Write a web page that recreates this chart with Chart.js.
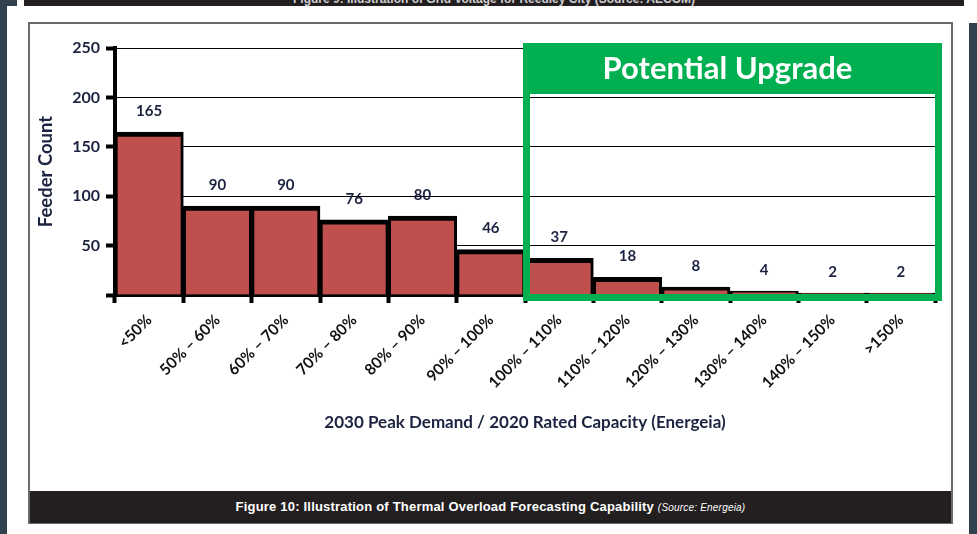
<!DOCTYPE html>
<html>
<head>
<meta charset="utf-8">
<script src="https://cdn.jsdelivr.net/npm/chart.js@4/dist/chart.umd.min.js"></script>
<style>
  html, body { margin: 0; padding: 0; background: #ffffff; }
  #page { position: relative; width: 977px; height: 534px; overflow: hidden; background: #ffffff; }
  .slate { position: absolute; background: #31414e; }
  #topbar { position: absolute; left: 24px; top: 0; width: 940px; height: 6px; background: #231f20; overflow: hidden; }
  #topbar span { position: absolute; left: 0; width: 100%; top: -8px; text-align: center; color: #d0d0d0;
    font: bold 12px "Liberation Sans Narrow", "Liberation Sans", Arial, sans-serif; line-height: 14px; white-space: nowrap; }
  #box { position: absolute; left: 28px; top: 22px; width: 921px; height: 498px; border: 2px solid #6b6b6b; }
  #caption { position: absolute; left: 30px; top: 491px; width: 921px; height: 32px; background: #231f20;
    color: #ffffff; text-align: center; white-space: nowrap;
    font: bold 13px "Liberation Sans Narrow", "Liberation Sans", Arial, sans-serif; line-height: 32px; letter-spacing: 0.2px; }
  #caption i { font-weight: normal; font-size: 10px; }
  #c { position: absolute; left: 0; top: 0; }
</style>
</head>
<body>
<div id="page">
  <div class="slate" style="left:0;top:0;width:7px;height:534px"></div>
  <div class="slate" style="left:0;top:0;width:17px;height:6px"></div>
  <div class="slate" style="left:969px;top:23px;width:8px;height:511px"></div>
  <div id="topbar"><span>Figure 9: Illustration of Grid Voltage for Reedley City (Source: AECOM)</span></div>
  <div id="box"></div>
  <div id="caption">Figure 10: Illustration of Thermal Overload Forecasting Capability <i>(Source: Energeia)</i></div>
  <canvas id="c" width="977" height="534"></canvas>
</div>
<script>
// Loading ratio bins (2030 peak demand over 2020 rated capacity)
const categories = ['<50%', '50% – 60%', '60% – 70%', '70% – 80%', '80% – 90%', '90% – 100%',
  '100% – 110%', '110% – 120%', '120% – 130%', '130% – 140%', '140% – 150%', '>150%'];
// Number of feeders in each bin
const feederCounts = [165, 90, 90, 76, 80, 46, 37, 18, 8, 4, 2, 2];
// Vertical axis
const yTicks = [0, 50, 100, 150, 200, 250];
// First bin covered by the upgrade panel
const upgradeStartIndex = 6;
const upgradeLabel = 'Potential Upgrade';

const NAVY = '#1c2340';
const GREEN = '#00b050';

// Writes each feeder count above its bar
const valueLabels = {
  id: 'valueLabels',
  afterDatasetsDraw(chart) {
    const ctx = chart.ctx;
    const meta = chart.getDatasetMeta(0);
    ctx.save();
    ctx.font = 'bold 15px Lato, sans-serif';
    ctx.fillStyle = NAVY;
    ctx.textAlign = 'center';
    ctx.textBaseline = 'middle';
    meta.data.forEach((bar, i) => {
      ctx.fillText(String(chart.data.datasets[0].data[i]), bar.x, bar.y - 21);
    });
    ctx.restore();
  }
};

// Green framed panel over the upper loading bins
const upgradePanel = {
  id: 'upgradePanel',
  afterDraw(chart) {
    const ctx = chart.ctx;
    const x = chart.scales.x;
    const area = chart.chartArea;
    const boundary = (x.getPixelForValue(upgradeStartIndex - 1) + x.getPixelForValue(upgradeStartIndex)) / 2;
    const lw = 7;
    const left = boundary + 1.5;
    const right = area.right + 3.5;
    const top = area.top - 1.5;
    const bottom = area.bottom + 2.5;
    ctx.save();
    ctx.fillStyle = GREEN;
    ctx.fillRect(left - lw / 2, top - lw / 2, right - left + lw, 51);
    ctx.strokeStyle = GREEN;
    ctx.lineWidth = lw;
    ctx.strokeRect(left, top, right - left, bottom - top);
    ctx.fillStyle = '#ffffff';
    ctx.font = 'bold 31px Lato, sans-serif';
    ctx.textAlign = 'center';
    ctx.textBaseline = 'middle';
    ctx.fillText(upgradeLabel, (left + right) / 2 - 5, top + 22);
    ctx.restore();
  }
};

new Chart(document.getElementById('c'), {
  type: 'bar',
  data: {
    labels: categories,
    datasets: [{
      data: feederCounts,
      backgroundColor: '#c0504d',
      borderColor: '#000000',
      borderWidth: { top: 5, left: 3, right: 3, bottom: 0 },
      borderSkipped: false,
      categoryPercentage: 1.0,
      barPercentage: 1.0
    }]
  },
  options: {
    responsive: false,
    animation: false,
    events: [],
    layout: { padding: { left: 35, top: 48, right: 42, bottom: 101 } },
    plugins: { legend: { display: false }, tooltip: { enabled: false } },
    scales: {
      x: {
        grid: { drawOnChartArea: false, offset: true, color: '#000', tickColor: '#000', tickWidth: 4, tickLength: 8 },
        border: { display: true, color: '#000', width: 4 },
        ticks: { autoSkip: false, minRotation: 45, maxRotation: 45, padding: 8, color: '#111',
                 font: { family: 'Lato, sans-serif', weight: 'bold', size: 15.5 } },
        title: { display: true, text: '2030 Peak Demand / 2020 Rated Capacity (Energeia)', color: NAVY,
                 padding: 0, font: { family: 'Lato, sans-serif', weight: 'bold', size: 17 } },
        afterFit(scale) { scale.height = 138; }
      },
      y: {
        min: yTicks[0],
        max: yTicks[yTicks.length - 1],
        afterBuildTicks(scale) { scale.ticks = yTicks.map(v => ({ value: v })); },
        grid: { color: '#000', lineWidth: 1, tickColor: '#000', tickWidth: 4, tickLength: 9 },
        border: { display: true, color: '#000', width: 4 },
        ticks: { padding: 6, color: NAVY, callback: v => (v === 0 ? '' : v),
                 font: { family: 'Lato, sans-serif', weight: 'bold', size: 16 } },
        title: { display: true, text: 'Feeder Count', color: NAVY, padding: 0,
                 font: { family: 'Lato, sans-serif', weight: 'bold', size: 18.5 } },
        afterFit(scale) { scale.width = 80; }
      }
    }
  },
  plugins: [valueLabels, upgradePanel]
});
</script>
</body>
</html>
